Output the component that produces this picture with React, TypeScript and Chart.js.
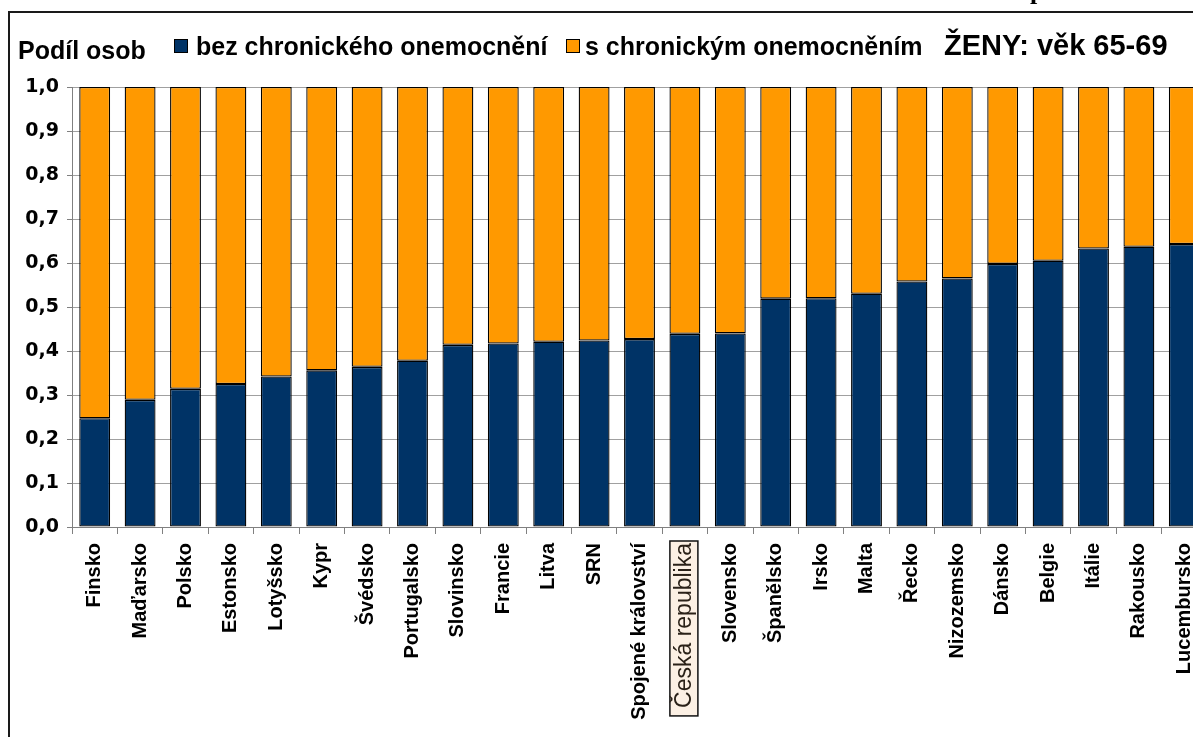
import React, { useEffect, useRef } from "react";
import { Chart, registerables } from "chart.js";

Chart.register(...registerables);

const categories = [
  "Finsko", "Maďarsko", "Polsko", "Estonsko", "Lotyšsko", "Kypr", "Švédsko",
  "Portugalsko", "Slovinsko", "Francie", "Litva", "SRN", "Spojené království",
  "Česká republika", "Slovensko", "Španělsko", "Irsko", "Malta", "Řecko",
  "Nizozemsko", "Dánsko", "Belgie", "Itálie", "Rakousko", "Lucembursko",
];

const bezChronickeho = [
  0.247, 0.289, 0.314, 0.325, 0.342, 0.356, 0.364, 0.378, 0.414, 0.417, 0.421,
  0.424, 0.427, 0.439, 0.440, 0.519, 0.520, 0.530, 0.558, 0.565, 0.598, 0.605,
  0.633, 0.637, 0.643,
];

const sChronickym = [
  0.753, 0.711, 0.686, 0.675, 0.658, 0.644, 0.636, 0.622, 0.586, 0.583, 0.579,
  0.576, 0.573, 0.561, 0.560, 0.481, 0.480, 0.470, 0.442, 0.435, 0.402, 0.395,
  0.367, 0.363, 0.357,
];

const yTickLabels = ["0,0", "0,1", "0,2", "0,3", "0,4", "0,5", "0,6", "0,7", "0,8", "0,9", "1,0"];

const seriesNames = ["bez chronického onemocnění", "s chronickým onemocněním"];
const seriesColors = ["#003366", "#FF9900"];
const yAxisTitle = "Podíl osob";
const panelTitle = "ŽENY: věk 65-69";
const highlighted = "Česká republika";

const FONT = "'Liberation Sans', Arial, sans-serif";
const HL_FONT_SIZE = 23;

const overlayPlugin = {
  id: "overlay",
  beforeDraw(chart: any) {
    const ctx = chart.ctx;
    const xs = chart.scales.x;
    const idx = categories.indexOf(highlighted);
    if (idx < 0) return;
    const cx = xs.getPixelForTick(idx);
    ctx.save();
    ctx.font = `normal ${HL_FONT_SIZE}px ${FONT}`;
    const w = ctx.measureText(highlighted).width;
    const top = xs.top + 14;
    ctx.fillStyle = "#FCF0E4";
    ctx.strokeStyle = "#111";
    ctx.lineWidth = 1.5;
    ctx.fillRect(cx - 15, top, 28, w + 10);
    ctx.strokeRect(cx - 15, top, 28, w + 10);
    ctx.restore();
  },
  afterDraw(chart: any) {
    const ctx = chart.ctx;
    ctx.save();
    ctx.fillStyle = "#000";
    ctx.textBaseline = "alphabetic";
    ctx.textAlign = "left";
    ctx.font = `bold 25px ${FONT}`;
    ctx.fillText(yAxisTitle, 18, 59);

    const items = [
      { x: 174, tx: 196 },
      { x: 566, tx: 585 },
    ];
    ctx.font = `bold 25px ${FONT}`;
    items.forEach((it, i) => {
      ctx.fillStyle = seriesColors[i];
      ctx.fillRect(it.x, 39, 14, 14);
      ctx.strokeStyle = "#000";
      ctx.lineWidth = 1;
      ctx.strokeRect(it.x + 0.5, 39.5, 13, 13);
      ctx.fillStyle = "#000";
      ctx.fillText(seriesNames[i], it.tx, 55);
    });

    ctx.font = `bold 29px ${FONT}`;
    ctx.fillText(panelTitle, 944, 55);
    ctx.restore();
  },
};

export default function App() {
  const canvasRef = useRef<HTMLCanvasElement | null>(null);

  useEffect(() => {
    const canvas = canvasRef.current;
    if (!canvas) return;
    const chart = new Chart(canvas, {
      type: "bar",
      data: {
        labels: categories,
        datasets: [
          {
            label: seriesNames[0],
            data: bezChronickeho,
            backgroundColor: seriesColors[0],
            borderColor: "#000",
            borderWidth: 1.3,
            borderSkipped: false,
            categoryPercentage: 1,
            barPercentage: 0.68,
          },
          {
            label: seriesNames[1],
            data: sChronickym,
            backgroundColor: seriesColors[1],
            borderColor: "#000",
            borderWidth: 1.3,
            borderSkipped: false,
            categoryPercentage: 1,
            barPercentage: 0.68,
          },
        ],
      },
      options: {
        animation: false,
        responsive: false,
        maintainAspectRatio: false,
        layout: { padding: { top: 87, right: 23, left: 0, bottom: 0 } },
        plugins: {
          legend: { display: false },
          tooltip: { enabled: false },
        },
        scales: {
          x: {
            stacked: true,
            grid: {
              drawOnChartArea: false,
              drawTicks: true,
              tickLength: 7,
              color: "#808080",
              offset: true,
            },
            border: { color: "#808080", width: 1 },
            ticks: {
              autoSkip: false,
              minRotation: 90,
              maxRotation: 90,
              padding: 9,
              color: (c: any) => (categories[c.index] === highlighted ? "#2a2118" : "#000"),
              font: (c: any) =>
                categories[c.index] === highlighted
                  ? { family: FONT, size: HL_FONT_SIZE, weight: "normal" }
                  : { family: FONT, size: 20, weight: "bold" },
            },
            afterFit: (s: any) => {
              s.height = 210;
            },
          },
          y: {
            stacked: true,
            min: 0,
            max: 1,
            ticks: {
              stepSize: 0.1,
              color: "#000",
              padding: 8,
              font: { family: "'DejaVu Sans', sans-serif", size: 19, weight: "bold" },
              callback: (_v: any, i: number) => yTickLabels[i],
            },
            grid: { color: "#a0a0a0", tickColor: "#808080", tickLength: 5 },
            border: { color: "#808080", width: 1 },
            afterFit: (s: any) => {
              s.width = 72;
            },
          },
        },
      },
      plugins: [overlayPlugin],
    });
    return () => chart.destroy();
  }, []);

  return (
    <div
      style={{
        position: "fixed",
        left: 0,
        top: 0,
        width: 1193,
        height: 737,
        overflow: "hidden",
        background: "#fff",
      }}
    >
      <canvas
        ref={canvasRef}
        width={1230}
        height={737}
        style={{ position: "absolute", left: 0, top: 0, width: 1230, height: 737 }}
      />
      <div
        style={{
          position: "absolute",
          left: 8,
          top: 11,
          width: 1300,
          height: 800,
          borderTop: "2px solid #1a1a1a",
          borderLeft: "2px solid #1a1a1a",
          pointerEvents: "none",
        }}
      />
      <div
        style={{
          position: "absolute",
          left: 1030,
          top: -22,
          fontFamily: "'Liberation Serif', 'Times New Roman', serif",
          fontWeight: "bold",
          fontSize: 26,
          lineHeight: "26px",
        }}
      >
        p
      </div>
    </div>
  );
}
